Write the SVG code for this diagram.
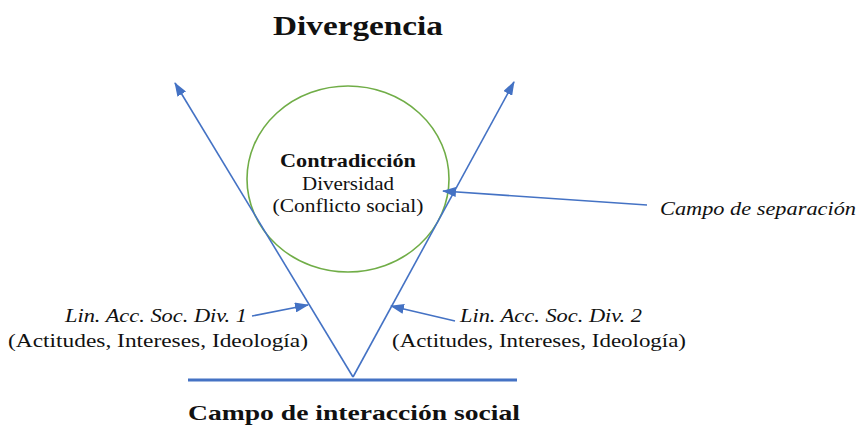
<svg xmlns="http://www.w3.org/2000/svg" width="858" height="425" viewBox="0 0 858 425">
<style>
.ln{stroke:#4472C4;stroke-width:1.6;fill:none}
.t{font-family:"Liberation Serif","Times New Roman",serif;fill:#111}
.b{font-weight:bold}
.i{font-style:italic}
</style>
<defs>
<marker id="ah" markerUnits="userSpaceOnUse" markerWidth="14" markerHeight="10" refX="13" refY="5" orient="auto">
<path d="M0,0 L14,5 L0,10 z" fill="#4472C4"/>
</marker>
</defs>
<rect width="858" height="425" fill="#fff"/>
<g id="title"><text class="t b" x="358" y="35" font-size="27" text-anchor="middle" textLength="170" lengthAdjust="spacingAndGlyphs">Divergencia</text></g>
<g id="circle">
<ellipse cx="348" cy="179" rx="101" ry="93" fill="none" stroke="#70AD47" stroke-width="1.6"/>
<text class="t b" x="348" y="167" font-size="18" text-anchor="middle" textLength="136" lengthAdjust="spacingAndGlyphs">Contradicción</text>
<text class="t" x="348" y="190" font-size="18" text-anchor="middle" textLength="92" lengthAdjust="spacingAndGlyphs">Diversidad</text>
<text class="t" x="348" y="212" font-size="18" text-anchor="middle" textLength="151" lengthAdjust="spacingAndGlyphs">(Conflicto social)</text>
</g>
<g id="base">
<line x1="188" y1="380" x2="517" y2="380" stroke="#4472C4" stroke-width="3"/>
<text class="t b" x="354" y="420" font-size="22" text-anchor="middle" textLength="332" lengthAdjust="spacingAndGlyphs">Campo de interacción social</text>
</g>
<g id="label-separacion"><text class="t i" x="660" y="215" font-size="18" textLength="196" lengthAdjust="spacingAndGlyphs">Campo de separación</text></g>
<g id="label-div1">
<text class="t i" x="65" y="322" font-size="18" textLength="182" lengthAdjust="spacingAndGlyphs">Lin. Acc. Soc. Div. 1</text>
<text class="t" x="8" y="347" font-size="18" textLength="300" lengthAdjust="spacingAndGlyphs">(Actitudes, Intereses, Ideología)</text>
</g>
<g id="label-div2">
<text class="t i" x="460" y="322" font-size="18" textLength="182" lengthAdjust="spacingAndGlyphs">Lin. Acc. Soc. Div. 2</text>
<text class="t" x="392" y="347" font-size="18" textLength="294" lengthAdjust="spacingAndGlyphs">(Actitudes, Intereses, Ideología)</text>
</g>
<g id="connectors">
<line class="ln" x1="353" y1="377" x2="175" y2="83" marker-end="url(#ah)"/>
<line class="ln" x1="353" y1="377" x2="514" y2="82" marker-end="url(#ah)"/>
<line class="ln" x1="647" y1="205" x2="443" y2="191" marker-end="url(#ah)"/>
<line class="ln" x1="252" y1="316" x2="308" y2="305" marker-end="url(#ah)"/>
<line class="ln" x1="455" y1="321" x2="391" y2="306" marker-end="url(#ah)"/>
</g>
</svg>
